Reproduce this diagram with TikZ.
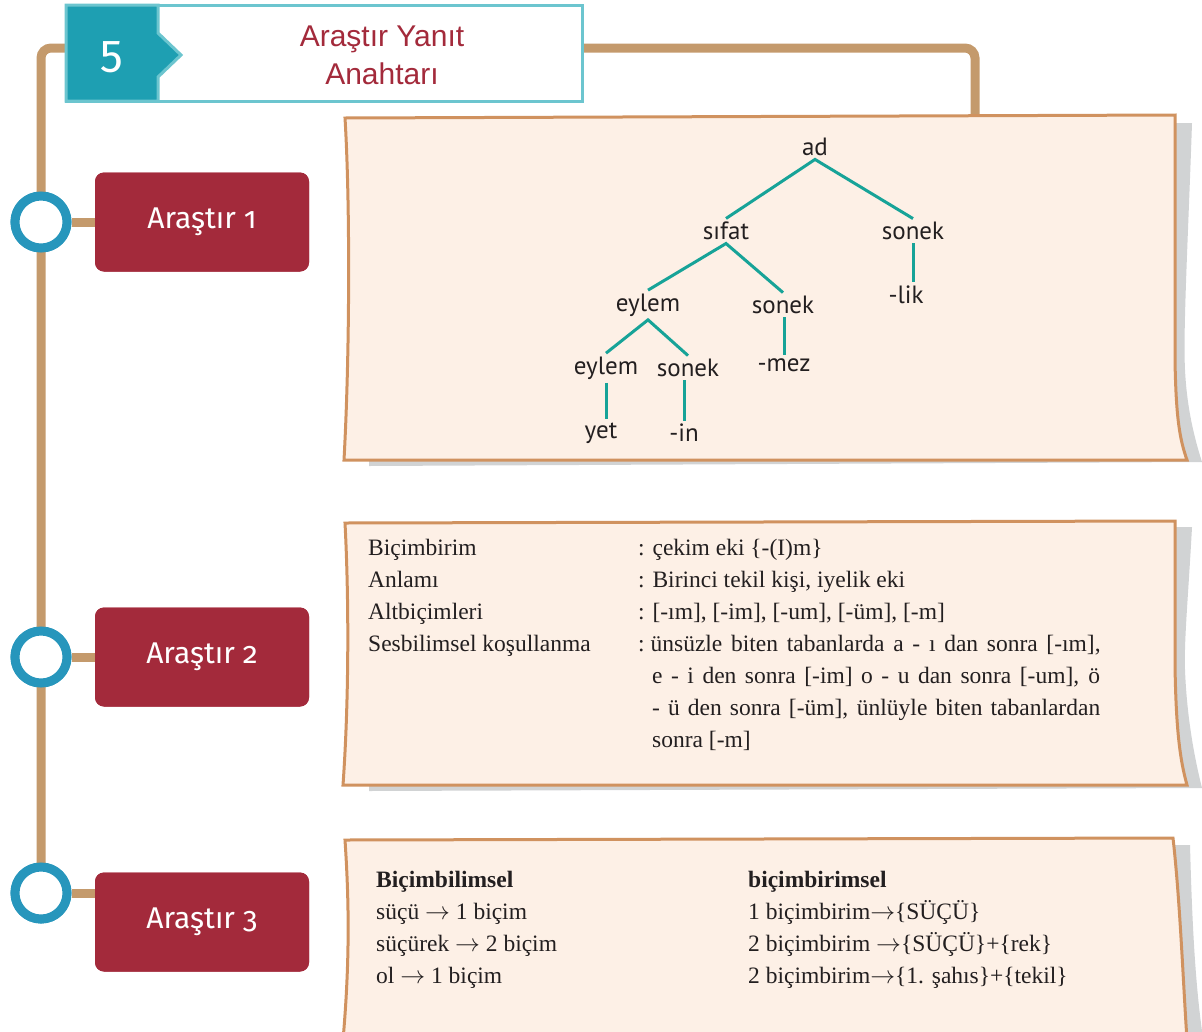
\documentclass[tikz,border=0pt]{standalone}
\usepackage{fontspec}
\setmainfont{Liberation Serif}
\newfontfamily\treefont{PT Sans}
\newfontfamily\titlefont{Liberation Sans}
\newfontfamily\tabfont[Numbers=OldStyle]{Fira Sans}
\definecolor{trailbrown}{HTML}{C49A6C}
\definecolor{ringblue}{HTML}{2796BC}
\definecolor{tabred}{HTML}{A32A3B}
\definecolor{headteal}{HTML}{1E9FB2}
\definecolor{headline}{HTML}{6CC5CF}
\definecolor{paperfill}{HTML}{FDF0E6}
\definecolor{paperedge}{HTML}{D0925F}
\definecolor{shadegray}{HTML}{D1D3D4}
\definecolor{branchteal}{HTML}{17A398}
\definecolor{inkdark}{HTML}{231F20}
\newcommand{\toarrow}{$\rightarrow$}

\tikzset{
  trail/.style={draw=trailbrown, line width=9pt},
  ring/.style={circle, draw=ringblue, line width=9pt, fill=white, minimum size=52pt, inner sep=0pt},
  tab/.style={fill=tabred, rounded corners=9pt, minimum width=214pt, minimum height=99pt,
    text=white, font=\tabfont\fontsize{30}{32}\selectfont},
  paper/.style={fill=paperfill, draw=paperedge, line width=3pt},
  shade/.style={fill=shadegray},
  leaf/.style={font=\treefont\fontsize{25}{27}\selectfont, text=inkdark},
  branch/.style={draw=branchteal, line width=3pt},
  row/.style={anchor=base west, inner sep=0pt, text=inkdark, font=\fontsize{23.5}{28}\selectfont}
}

\begin{document}
\begin{tikzpicture}[x=1pt, y=-1pt]
  \useasboundingbox (0,0) rectangle (1202,1031);
  \clip (0,0) rectangle (1202,1031);

  % timeline
  \node[ring] (c1) at (41,222) {};
  \node[ring] (c2) at (41,657) {};
  \node[ring] (c3) at (41,893) {};
  \node[tab] (r1) at (202,222) {Araştır 1};
  \node[tab] (r2) at (202,657) {Araştır 2};
  \node[tab] (r3) at (202,922) {Araştır 3};
  \coordinate (hook) at (975,125);
  \coordinate (top) at (41,48);
  \draw[trail, rounded corners=10pt] (hook) |- (top) -- (c3.center);
  \draw[trail] (c1) -- (r1);
  \draw[trail] (c2) -- (r2);
  \draw[trail] (c3.east) -- (c3.east -| r3.west);
  \node[ring] at (c1) {};
  \node[ring] at (c2) {};
  \node[ring] at (c3) {};
  \node[tab] at (r1) {Araştır 1};
  \node[tab] at (r2) {Araştır 2};
  \node[tab] at (r3) {Araştır 3};

  % header
  \draw[fill=white, draw=headline, line width=3pt] (66,5) rectangle (582,101);
  \draw[fill=headteal, draw=headline, line width=3pt]
    (66,5) -- (158,5) -- (158,33) -- (181,55) -- (158,77) -- (158,101) -- (66,101) -- cycle;
  \node[text=white, font=\tabfont\fontsize{46}{48}\selectfont] (num) at (112,57) {5};
  \node[text=tabred, align=center, font=\titlefont\fontsize{30}{38}\selectfont] (title) at (382,55)
    {Araştır Yanıt\\Anahtarı};

  % paper 1
  \fill[shade] (369,125) -- (1192,123) .. controls (1188,240) and (1183,330) .. (1185,370)
    .. controls (1187,410) and (1195,440) .. (1202,462) -- (369,466) -- cycle;
  \draw[paper] (345,118) -- (1175,115) -- (1175,360) .. controls (1176,420) and (1180,440) .. (1187,460)
    -- (344,460) .. controls (350,350) and (350,200) .. cycle;

  \node[leaf] (ad) at (815,147) {ad};
  \node[leaf] (sifat) at (726,231) {sıfat};
  \node[leaf] (sonekA) at (913,231) {sonek};
  \node[leaf] (lik) at (906,295) {-lik};
  \node[leaf] (eylemA) at (648,305) {eylem};
  \node[leaf] (sonekB) at (783,305) {sonek};
  \node[leaf] (mez) at (784,365) {-mez};
  \node[leaf] (eylemB) at (606,368) {eylem};
  \node[leaf] (sonekC) at (688,368) {sonek};
  \node[leaf] (yet) at (601,433) {yet};
  \node[leaf] (inn) at (684,433) {-in};
  \draw[branch] (sifat.north) -- (ad.south) -- (sonekA.north);
  \draw[branch] (eylemA.north) -- (sifat.south) -- (sonekB.north);
  \draw[branch] (eylemB.north) -- (eylemA.south) -- (sonekC.north);
  \draw[branch] (sonekA.south) -- (sonekA.south |- lik.north);
  \draw[branch] (sonekB.south -| mez.north) -- (mez.north);
  \draw[branch] (eylemB.south) -- (eylemB.south |- yet.north);
  \draw[branch] (sonekC.south -| inn.north) -- (inn.north);

  % paper 2
  \fill[shade] (369,528) -- (1192,527) .. controls (1188,600) and (1184,640) .. (1185,670)
    .. controls (1187,720) and (1195,760) .. (1202,788) -- (369,791) -- cycle;
  \draw[paper] (345,523) -- (1175,521) -- (1175,665) .. controls (1176,730) and (1180,760) .. (1187,785)
    -- (343,785) .. controls (349,700) and (349,600) .. cycle;

  \node[row] (k1) at (368,555) {Biçimbirim};
  \node[row] (k2) at (368,587) {Anlamı};
  \node[row] (k3) at (368,619) {Altbiçimleri};
  \node[row] (k4) at (368,651) {Sesbilimsel koşullanma};
  \node[row] (v1) at (638,555) {: çekim eki \{-(I)m\}};
  \node[row] (v2) at (638,587) {: Birinci tekil kişi, iyelik eki};
  \node[row] (v3) at (638,619) {: [-ım], [-im], [-um], [-üm], [-m]};
  \node[row] (v4) at (638,651) {:~\makebox[450pt][s]{ünsüzle biten tabanlarda a - ı dan sonra [-ım],}};
  \node[row] (v5) at (652,683) {\makebox[448pt][s]{e - i den sonra [-im] o - u dan sonra [-um], ö}};
  \node[row] (v6) at (652,715) {\makebox[448pt][s]{- ü den sonra [-üm], ünlüyle biten tabanlardan}};
  \node[row] (v7) at (652,747) {sonra [-m]};

  % paper 3
  \fill[shade] (1170,845) -- (1190,845) .. controls (1192,920) and (1195,980) .. (1202,1031)
    -- (1202,1040) -- (1180,1040) -- cycle;
  \draw[paper] (345,840) -- (1173,838) .. controls (1180,900) and (1183,980) .. (1187,1040)
    -- (343,1040) .. controls (350,960) and (349,900) .. cycle;

  \node[row] (b1) at (376,887) {\bfseries Biçimbilimsel};
  \node[row] (b2) at (376,919) {süçü \toarrow{} 1 biçim};
  \node[row] (b3) at (376,951) {süçürek \toarrow{} 2 biçim};
  \node[row] (b4) at (376,983) {ol \toarrow{} 1 biçim};
  \node[row] (m1) at (748,887) {\bfseries biçimbirimsel};
  \node[row] (m2) at (748,919) {1 biçimbirim\toarrow\{SÜÇÜ\}};
  \node[row] (m3) at (748,951) {2 biçimbirim \toarrow\{SÜÇÜ\}+\{rek\}};
  \node[row] (m4) at (748,983) {2 biçimbirim\toarrow\{1. şahıs\}+\{tekil\}};
\end{tikzpicture}
\end{document}
